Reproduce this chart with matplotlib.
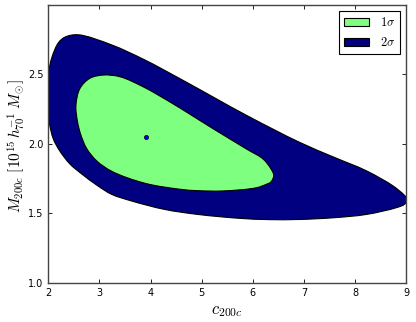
import matplotlib
matplotlib.use("Agg")
import matplotlib.pyplot as plt
from matplotlib.patches import Patch, PathPatch
from matplotlib.path import Path

plt.rcParams['mathtext.fontset'] = 'cm'

# 2-sigma contour outline (c200c, M200c)
outer_c = [1.99, 2.0, 2.07, 2.20, 2.33, 2.586, 3.237, 3.888, 4.62, 5.874, 6.905, 7.566, 8.218,
           8.738, 8.96, 9.02, 8.96, 8.80, 8.218, 7.566, 6.905, 6.30, 5.743, 4.923, 4.272,
           3.621, 3.237, 2.97, 2.645, 2.42, 2.22, 2.098, 2.02]
outer_m = [2.30, 2.49, 2.615, 2.722, 2.762, 2.778, 2.706, 2.598, 2.455, 2.202, 2.010, 1.905, 1.805,
           1.697, 1.630, 1.600, 1.565, 1.541, 1.493, 1.469, 1.457, 1.456, 1.465, 1.493, 1.529,
           1.590, 1.637, 1.697, 1.785, 1.855, 1.95, 2.034, 2.15]

# 1-sigma contour outline
inner_c = [2.541, 2.619, 2.814, 3.074, 3.40, 3.855, 4.376, 4.767, 5.222, 5.874, 6.20, 6.35,
           6.407, 6.35, 6.264, 6.07, 5.418, 4.923, 4.60, 3.90, 3.25, 2.95, 2.75, 2.63, 2.57]
inner_m = [2.274, 2.394, 2.467, 2.490, 2.478, 2.406, 2.298, 2.210, 2.106, 1.961, 1.889, 1.820,
           1.772, 1.725, 1.709, 1.684, 1.661, 1.663, 1.672, 1.715, 1.800, 1.875, 1.965, 2.070, 2.160]

best_c = [3.907]
best_m = [2.05]

xticks = [2, 3, 4, 5, 6, 7, 8, 9]
yticks = [1.0, 1.5, 2.0, 2.5]
labels = [r'$1\sigma$', r'$2\sigma$']
colors = ['#7fff7f', '#000080']

# approximate display scale (pixels per data unit) used only to smooth the outline evenly
SX, SY = 51.2, 138.7


def smooth_closed_path(xs, ys, alpha=0.5):
    """Closed centripetal Catmull-Rom curve through the vertices, as cubic Bezier segments."""
    n = len(xs)
    pts = [(x * SX, y * SY) for x, y in zip(xs, ys)]

    def dist(a, b):
        return max(((a[0] - b[0]) ** 2 + (a[1] - b[1]) ** 2) ** 0.5, 1e-9) ** alpha

    verts = [(xs[0], ys[0])]
    codes = [Path.MOVETO]
    for i in range(n):
        p0, p1, p2, p3 = pts[(i - 1) % n], pts[i], pts[(i + 1) % n], pts[(i + 2) % n]
        d1, d2, d3 = dist(p0, p1), dist(p1, p2), dist(p2, p3)
        b1 = tuple((d1 * d1 * p2[k] - d2 * d2 * p0[k] + (2 * d1 * d1 + 3 * d1 * d2 + d2 * d2) * p1[k])
                   / (3 * d1 * (d1 + d2)) for k in range(2))
        b2 = tuple((d3 * d3 * p1[k] - d2 * d2 * p3[k] + (2 * d3 * d3 + 3 * d3 * d2 + d2 * d2) * p2[k])
                   / (3 * d3 * (d3 + d2)) for k in range(2))
        for q in (b1, b2, p2):
            verts.append((q[0] / SX, q[1] / SY))
        codes += [Path.CURVE4] * 3
    return Path(verts, codes)


fig = plt.figure(figsize=(4.16, 3.22), dpi=100)
ax = fig.add_axes([0.116, 0.12, 0.861, 0.864])

ax.add_patch(PathPatch(smooth_closed_path(outer_c, outer_m), facecolor=colors[1],
                       edgecolor='black', linewidth=0.8, zorder=2))
ax.add_patch(PathPatch(smooth_closed_path(inner_c, inner_m), facecolor=colors[0],
                       edgecolor='black', linewidth=0.8, zorder=3))
ax.plot(best_c, best_m, 'o', color='#0000ff', markersize=3, markeredgecolor='black',
        markeredgewidth=0.5, zorder=4)

ax.set_xlim(2, 9)
ax.set_ylim(1.0, 2.99)
ax.set_xticks(xticks)
ax.set_yticks(yticks)
ax.set_yticklabels(['1.0', '1.5', '2.0', '2.5'])
ax.tick_params(direction='in', top=True, right=True, labelsize=7, length=3, width=0.6)
for s in ax.spines.values():
    s.set_color('#444444')
    s.set_linewidth(1.0)

ax.set_xlabel(r'$c_{200c}$', fontsize=12, labelpad=2)
ax.set_ylabel(r'$M_{200c}\ [10^{15}\,h_{70}^{-1}\ M_{\odot}]$', fontsize=11)
ax.yaxis.set_label_coords(-0.06, 0.493)

handles = [Patch(facecolor=colors[0], edgecolor='black', linewidth=0.8),
           Patch(facecolor=colors[1], edgecolor='black', linewidth=0.8)]
leg = ax.legend(handles, labels, loc='upper right', fontsize=9, fancybox=False,
                framealpha=1, edgecolor='black', handlelength=2.0, handleheight=0.7,
                borderaxespad=0.5, labelspacing=0.55, handletextpad=0.9)
leg.get_frame().set_linewidth(0.8)

fig.savefig('out.png', dpi=100)
